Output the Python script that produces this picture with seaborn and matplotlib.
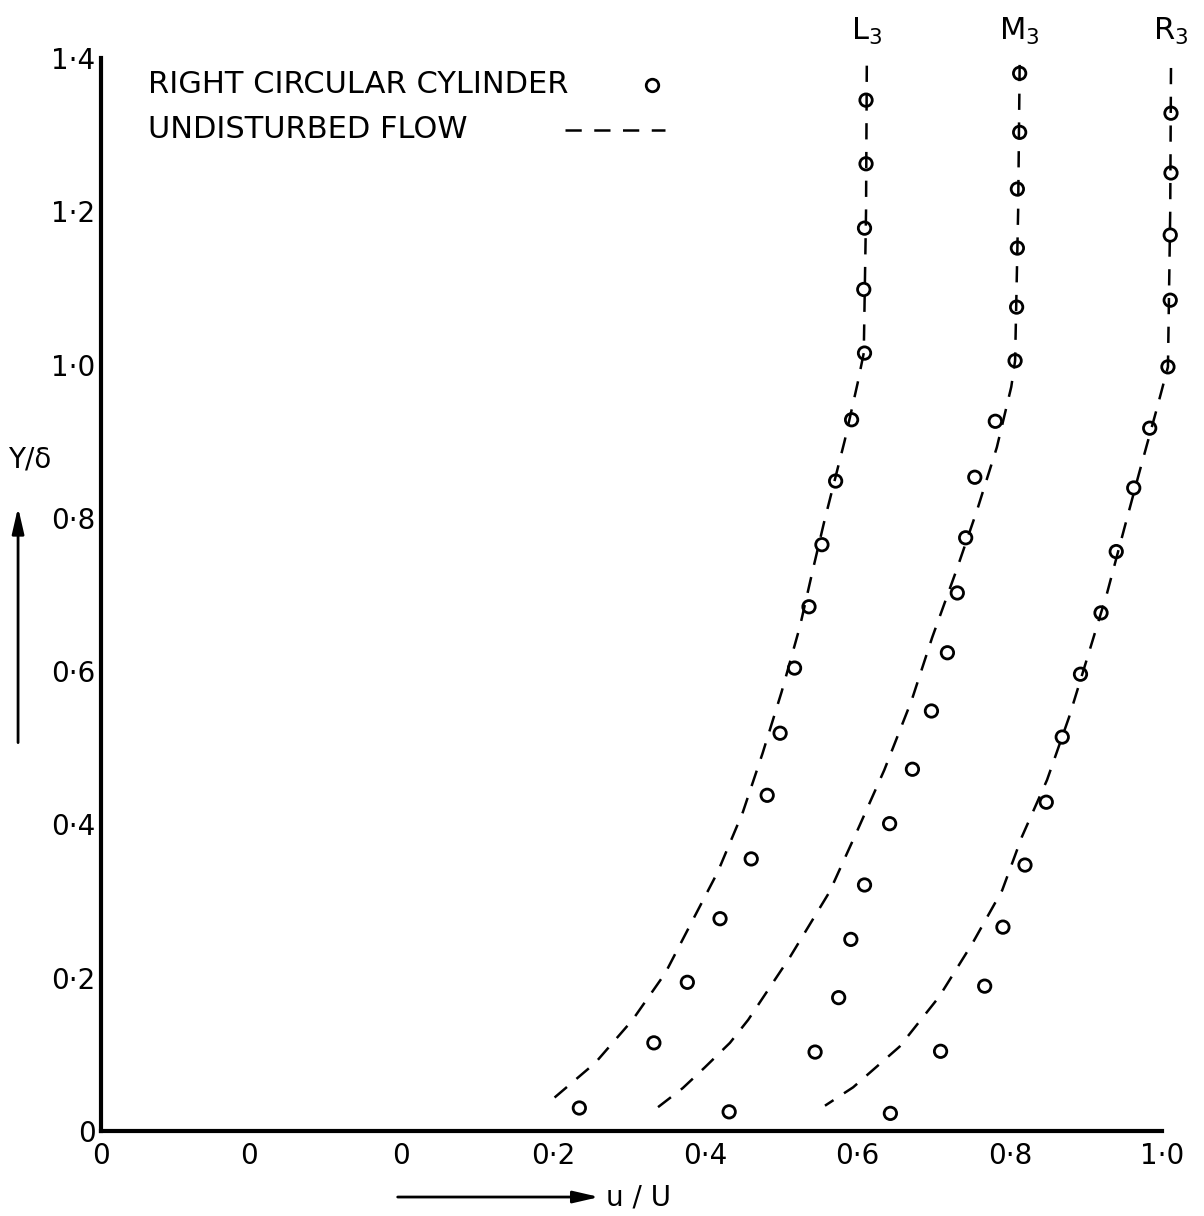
import matplotlib
matplotlib.use("Agg")
import matplotlib.pyplot as plt
import seaborn as sns
import pandas as pd

# profile names
profiles = ["L3", "M3", "R3"]
profile_labels = ["L$_3$", "M$_3$", "R$_3$"]

# right circular cylinder measurements (u/U, Y/delta)
l3_u = [0.611, 0.611, 0.609, 0.608, 0.609, 0.592, 0.571, 0.553, 0.536, 0.517,
        0.498, 0.481, 0.460, 0.419, 0.376, 0.332, 0.234]
l3_y = [1.345, 1.262, 1.178, 1.098, 1.015, 0.928, 0.848, 0.765, 0.684, 0.604,
        0.519, 0.438, 0.355, 0.277, 0.194, 0.115, 0.030]
m3_u = [0.813, 0.813, 0.810, 0.810, 0.809, 0.807, 0.781, 0.754, 0.742, 0.731,
        0.718, 0.697, 0.672, 0.642, 0.609, 0.591, 0.575, 0.544, 0.431]
m3_y = [1.380, 1.303, 1.229, 1.152, 1.075, 1.005, 0.926, 0.853, 0.774, 0.702,
        0.624, 0.548, 0.472, 0.401, 0.321, 0.250, 0.174, 0.103, 0.025]
r3_u = [1.012, 1.012, 1.011, 1.011, 1.008, 0.984, 0.963, 0.940, 0.920, 0.893,
        0.869, 0.848, 0.820, 0.791, 0.767, 0.709, 0.643]
r3_y = [1.328, 1.250, 1.169, 1.084, 0.997, 0.917, 0.839, 0.756, 0.676, 0.596,
        0.514, 0.429, 0.347, 0.266, 0.189, 0.104, 0.023]

# undisturbed flow profiles
l3_flow_u = [0.612, 0.611, 0.608, 0.600, 0.583, 0.556, 0.541, 0.524, 0.500, 0.475,
             0.449, 0.416, 0.383, 0.347, 0.304, 0.255, 0.190]
l3_flow_y = [1.390, 1.200, 1.015, 0.976, 0.901, 0.795, 0.732, 0.658, 0.573, 0.493,
             0.416, 0.338, 0.275, 0.206, 0.145, 0.089, 0.034]
m3_flow_u = [0.813, 0.811, 0.807, 0.802, 0.783, 0.757, 0.730, 0.698, 0.671, 0.635,
             0.600, 0.563, 0.511, 0.456, 0.432, 0.399, 0.370, 0.336]
m3_flow_y = [1.391, 1.200, 1.005, 0.971, 0.892, 0.810, 0.732, 0.644, 0.562, 0.471,
             0.393, 0.312, 0.227, 0.145, 0.115, 0.083, 0.056, 0.030]
r3_flow_u = [1.012, 1.011, 1.008, 0.993, 0.970, 0.950, 0.928, 0.904, 0.878, 0.849,
             0.816, 0.790, 0.751, 0.707, 0.655, 0.594, 0.557]
r3_flow_y = [1.387, 1.200, 0.997, 0.941, 0.858, 0.784, 0.702, 0.624, 0.540, 0.458,
             0.384, 0.314, 0.245, 0.175, 0.110, 0.057, 0.033]

# axis ticks (the left "0"s are origins of shifted profiles)
x_ticks = [-0.395, -0.2, 0.0, 0.2, 0.4, 0.6, 0.8, 1.0]
x_tick_labels = ["0", "0", "0", "0·2", "0·4", "0·6", "0·8", "1·0"]
y_ticks = [0.0, 0.2, 0.4, 0.6, 0.8, 1.0, 1.2, 1.4]
y_tick_labels = ["0", "0·2", "0·4", "0·6", "0·8", "1·0", "1·2", "1·4"]

points = pd.concat([
    pd.DataFrame({"profile": p, "u": u, "Y": y})
    for p, u, y in zip(profiles, [l3_u, m3_u, r3_u], [l3_y, m3_y, r3_y])
])
flows = pd.concat([
    pd.DataFrame({"profile": p, "u": u, "Y": y})
    for p, u, y in zip(profiles, [l3_flow_u, m3_flow_u, r3_flow_u],
                       [l3_flow_y, m3_flow_y, r3_flow_y])
])

sns.set_theme(style="white")
plt.rcParams["font.family"] = ["DejaVu Sans"]
plt.rcParams["text.color"] = "black"

fig = plt.figure(figsize=(12.04, 12.16), dpi=100)
ax = fig.add_axes([0.0839, 0.0699, 0.8811, 0.8824])

dash = (0, (6.5, 5))
for p in profiles:
    sub = flows[flows["profile"] == p]
    sns.lineplot(data=sub, x="u", y="Y", sort=False, estimator=None, ax=ax,
                 color="black", lw=1.8, linestyle=dash, clip_on=False)

sns.scatterplot(data=points, x="u", y="Y", ax=ax, marker="o", s=80,
                fc="none", ec="black", linewidth=2.0, clip_on=False, zorder=3)

# profile labels above each curve
for p, lab in zip(profiles, profile_labels):
    top = flows[flows["profile"] == p].iloc[0]
    ax.text(top["u"], 1.435, lab, ha="center", va="center", fontsize=22,
            clip_on=False)

ax.set_xlim(-0.395, 1.0)
ax.set_ylim(0, 1.4)
ax.set_xticks(x_ticks)
ax.set_xticklabels(x_tick_labels)
ax.set_yticks(y_ticks)
ax.set_yticklabels(y_tick_labels)
ax.set_xlabel("")
ax.set_ylabel("")

for side in ["top", "right"]:
    ax.spines[side].set_visible(False)
for side in ["left", "bottom"]:
    ax.spines[side].set_linewidth(3)
    ax.spines[side].set_color("black")
ax.tick_params(axis="both", direction="in", length=11, width=2, colors="black",
               labelsize=20)
ax.tick_params(axis="x", pad=8)
ax.tick_params(axis="y", pad=4)

# legend (symbols written to the right of the text, as in the original)
ax.text(0.0443, 0.975, "RIGHT CIRCULAR CYLINDER", transform=ax.transAxes,
        fontsize=22, va="center", ha="left")
ax.text(0.0443, 0.933, "UNDISTURBED FLOW", transform=ax.transAxes,
        fontsize=22, va="center", ha="left")
ax.plot([0.519], [0.975], transform=ax.transAxes, marker="o", ms=9,
        mfc="none", mec="black", mew=2.0, clip_on=False)
ax.plot([0.437, 0.532], [0.933, 0.933], transform=ax.transAxes, color="black",
        lw=1.8, linestyle=dash, clip_on=False)

# axis titles with arrows
fig.text(0.025, 0.622, "Y/δ", fontsize=20, ha="center", va="center")
ax.annotate("", xy=(0.015, 0.585), xytext=(0.015, 0.387), xycoords="figure fraction",
            textcoords="figure fraction",
            arrowprops=dict(arrowstyle="-|>,head_length=1.3,head_width=0.3",
                            lw=2, color="black"))
ax.annotate("", xy=(0.500, 0.0156), xytext=(0.328, 0.0156), xycoords="figure fraction",
            textcoords="figure fraction",
            arrowprops=dict(arrowstyle="-|>,head_length=1.3,head_width=0.3",
                            lw=2, color="black"))
fig.text(0.503, 0.0156, "u / U", fontsize=20, ha="left", va="center")

fig.savefig("out.png", dpi=100)
